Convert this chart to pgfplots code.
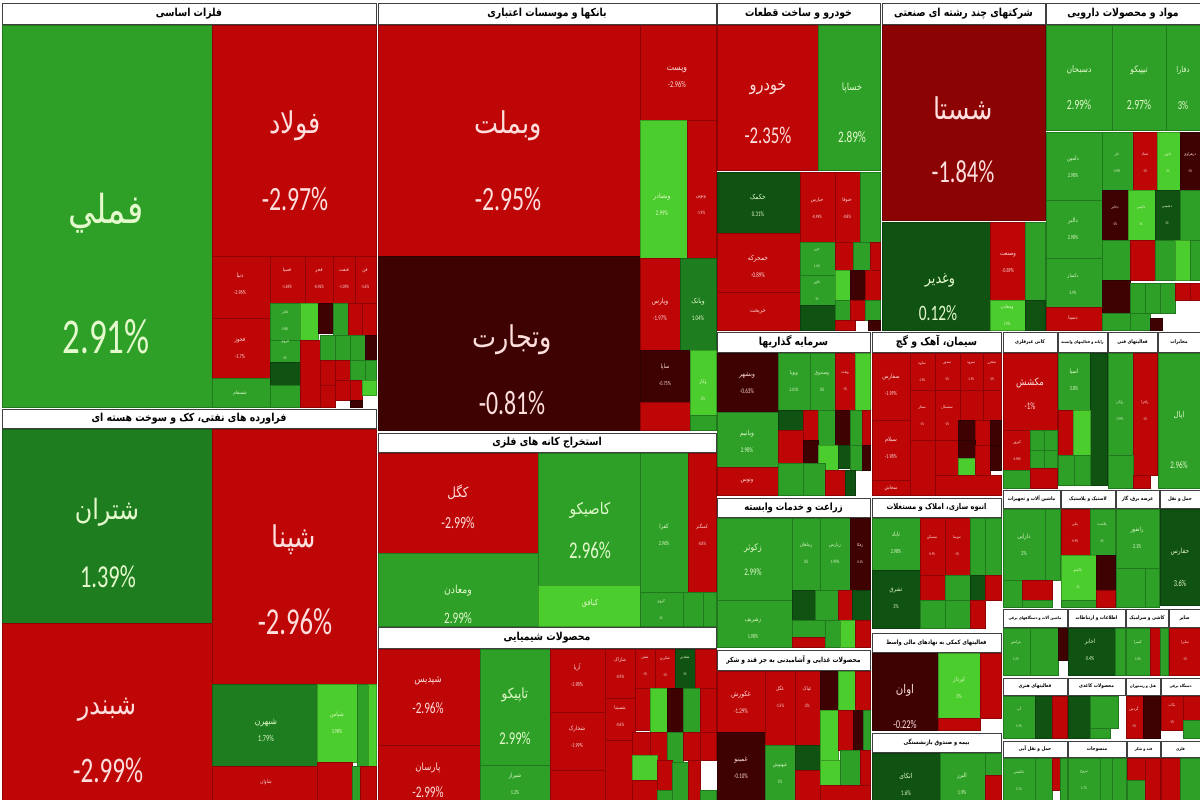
\documentclass[border=0pt]{standalone}
\usepackage{pgfplots}
\pgfplotsset{compat=1.18}
\usepackage{fontspec}
\usetikzlibrary{calc}
\setmainfont{Carlito}
\newfontfamily\fa[Script=Arabic,FakeStretch=0.85]{DejaVu Sans}
\newfontfamily\la[FakeStretch=0.7]{Carlito}
\TeXXeTstate=1

\definecolor{G}{RGB}{46,160,40}
\definecolor{LG}{RGB}{75,205,45}
\definecolor{MG}{RGB}{30,125,30}
\definecolor{DG}{RGB}{16,82,18}
\definecolor{R}{RGB}{190,6,6}
\definecolor{DR}{RGB}{140,3,3}
\definecolor{M}{RGB}{62,2,2}
\definecolor{tg}{RGB}{228,250,205}
\definecolor{tr}{RGB}{255,222,222}

% one treemap cell: x1 y1 x2 y2 colour
\newcommand\rc[5]{\addplot[fill=#5,draw=#5!75!black,line width=0.6pt] coordinates {(#1,#2) (#3,#2) (#3,#4) (#1,#4)} --cycle;}
% sector header: x1 y1 x2 y2 text size
\newcommand\hd[6]{\addplot[fill=white,draw=black!75,line width=0.7pt] coordinates {(#1,#2) (#3,#2) (#3,#4) (#1,#4)} --cycle;
  \node[inner sep=0pt,font={\fa\bfseries\fontsize{#6}{#6}\selectfont}] at ($(axis cs:#1,#2)!0.5!(axis cs:#3,#4)$) {#5};}
\newcommand\nm[5]{\node[inner sep=0pt,text=#5] at (axis cs:#1,#2) {\fa\fontsize{#3}{#3}\selectfont #4};}
\newcommand\pc[5]{\node[inner sep=0pt,text=#5] at (axis cs:#1,#2) {\la\fontsize{#3}{#3}\selectfont #4};}
\newcommand\lb[6]{\node[inner sep=0pt,text=#6,align=center] at (axis cs:#1,#2) {\fa\fontsize{#3}{#3}\selectfont #4\\[0.5em]\la\fontsize{#3}{#3}\selectfont #5};}

\begin{document}
\begin{tikzpicture}
\begin{axis}[width=1200pt,height=800pt,scale only axis,
  xmin=0,xmax=1200,ymin=0,ymax=800,y dir=reverse,hide axis]

\addplot[fill=white,draw=none] coordinates {(0,0) (1200,0) (1200,800) (0,800)} --cycle;

% ---- basic metals
\hd{2}{3}{376}{24}{\beginR فلزات اساسی\endR}{11}
\rc{2}{25}{212}{407}{G}
\rc{212}{25}{376}{256}{R}
\rc{212}{256}{270}{318}{R}
\rc{212}{318}{270}{378}{R}
\rc{212}{378}{270}{407}{G}
\rc{270}{256}{305}{303}{R}
\rc{305}{256}{333}{303}{R}
\rc{333}{256}{355}{303}{R}
\rc{355}{256}{376}{303}{R}
\rc{270}{303}{300}{340}{G}
\rc{300}{303}{318}{340}{LG}
\rc{318}{303}{333}{333}{M}
\rc{333}{303}{348}{335}{G}
\rc{348}{303}{362}{335}{R}
\rc{362}{303}{376}{335}{R}
\rc{270}{340}{300}{362}{G}
\rc{270}{362}{300}{385}{DG}
\rc{270}{385}{300}{407}{G}
\rc{300}{340}{320}{407}{R}
\rc{320}{335}{335}{360}{G}
\rc{335}{335}{350}{360}{G}
\rc{350}{335}{365}{360}{G}
\rc{365}{335}{376}{360}{M}
\rc{320}{360}{335}{385}{R}
\rc{335}{360}{350}{380}{R}
\rc{350}{360}{365}{380}{G}
\rc{365}{360}{376}{380}{G}
\rc{320}{385}{335}{407}{R}
\rc{335}{380}{350}{400}{R}
\rc{350}{380}{362}{400}{R}
\rc{362}{380}{376}{395}{LG}
\rc{350}{400}{362}{407}{M}
\nm{106}{213}{40}{\beginR فملي\endR}{tg}
\pc{106}{337}{50}{2.91\%}{tg}
\nm{295}{126}{30}{\beginR فولاد\endR}{tr}
\pc{295}{199}{34}{-2.97\%}{tr}
\lb{240}{284}{6}{\beginR دنیا\endR}{-2.96\%}{tr}
\lb{240}{348}{6}{\beginR فخوز\endR}{-1.7\%}{tr}
\nm{240}{393}{5}{\beginR شسفام\endR}{tg}
\lb{287}{278}{5}{\beginR فسپا\endR}{-1.69\%}{tr}
\lb{319}{278}{5}{\beginR فجر\endR}{-0.92\%}{tr}
\lb{344}{278}{5}{\beginR فنفت\endR}{-1.09\%}{tr}
\lb{365}{278}{5}{\beginR فن\endR}{-1.6\%}{tr}
\lb{285}{320}{4}{\beginR فاذر\endR}{1.98\%}{tg}
\lb{285}{350}{4}{\beginR فروی\endR}{2\%}{tg}

% ---- petroleum products
\hd{2}{409}{376}{428}{\beginR فراورده های نفتی، کک و سوخت هسته ای\endR}{11}
\rc{2}{429}{212}{623}{MG}
\rc{212}{429}{376}{684}{R}
\rc{2}{623}{212}{800}{R}
\rc{212}{684}{317}{766}{MG}
\rc{317}{684}{357}{762}{LG}
\rc{357}{684}{368}{766}{G}
\rc{368}{684}{376}{766}{LG}
\rc{212}{766}{317}{800}{R}
\rc{317}{762}{352}{800}{R}
\rc{352}{766}{360}{800}{G}
\rc{360}{766}{376}{800}{R}
\nm{107}{512}{28}{\beginR شتران\endR}{tg}
\pc{108}{577}{32}{1.39\%}{tg}
\nm{294}{540}{30}{\beginR شپنا\endR}{tr}
\pc{295}{622}{38}{-2.96\%}{tr}
\nm{107}{710}{28}{\beginR شبندر\endR}{tr}
\pc{108}{770}{36}{-2.99\%}{tr}
\lb{266}{730}{9}{\beginR شبهرن\endR}{1.79\%}{tg}
\lb{337}{723}{6}{\beginR شپاس\endR}{3.98\%}{tg}
\nm{266}{782}{5}{\beginR شاوان\endR}{tr}

% ---- banks
\hd{378}{3}{716}{24}{\beginR بانکها و موسسات اعتباری\endR}{11}
\rc{378}{25}{640}{256}{R}
\rc{378}{256}{640}{430}{M}
\rc{640}{25}{716}{120}{R}
\rc{640}{120}{687}{258}{LG}
\rc{687}{120}{716}{258}{R}
\rc{640}{258}{680}{350}{R}
\rc{680}{258}{716}{350}{MG}
\rc{640}{350}{690}{402}{M}
\rc{640}{402}{690}{430}{R}
\rc{690}{350}{716}{415}{LG}
\rc{690}{415}{716}{430}{G}
\nm{508}{126}{30}{\beginR وبملت\endR}{tr}
\pc{508}{199}{34}{-2.95\%}{tr}
\nm{512}{340}{30}{\beginR وتجارت\endR}{tr}
\pc{512}{403}{34}{-0.81\%}{tr}
\lb{677}{77}{9}{\beginR وپست\endR}{-2.96\%}{tr}
\lb{662}{204}{7}{\beginR وبصادر\endR}{2.99\%}{tg}
\lb{701}{205}{5}{\beginR ونوین\endR}{-1.9\%}{tr}
\lb{660}{309}{7}{\beginR وپارس\endR}{-1.97\%}{tr}
\lb{698}{309}{7}{\beginR وبانک\endR}{1.04\%}{tg}
\lb{665}{375}{6}{\beginR ساپا\endR}{-0.75\%}{tr}
\lb{703}{390}{5}{\beginR وکار\endR}{2\%}{tg}

% ---- metal ores
\hd{378}{433}{716}{452}{\beginR استخراج کانه های فلزی\endR}{11}
\rc{378}{453}{538}{553}{R}
\rc{378}{553}{538}{626}{G}
\rc{538}{453}{640}{585}{G}
\rc{538}{585}{640}{626}{LG}
\rc{640}{453}{688}{592}{G}
\rc{688}{453}{716}{592}{R}
\rc{640}{592}{683}{626}{G}
\rc{683}{592}{703}{626}{G}
\rc{703}{592}{716}{626}{G}
\nm{458}{492}{14}{\beginR کگل\endR}{tr}
\pc{458}{523}{17}{-2.99\%}{tr}
\nm{458}{591}{11}{\beginR ومعادن\endR}{tg}
\pc{458}{618}{16}{2.99\%}{tg}
\nm{590}{510}{16}{\beginR کاصیکو\endR}{tg}
\pc{590}{550}{24}{2.96\%}{tg}
\nm{590}{603}{8}{\beginR کبافق\endR}{tg}
\lb{664}{535}{6}{\beginR کفرا\endR}{2.96\%}{tg}
\lb{702}{535}{5}{\beginR کمنگنز\endR}{-0.8\%}{tr}
\lb{661}{609}{4}{\beginR کروی\endR}{1\%}{tg}

% ---- chemicals
\hd{378}{627}{716}{648}{\beginR محصولات شیمیایی\endR}{11}
\rc{378}{649}{480}{745}{R}
\rc{378}{745}{480}{800}{R}
\rc{480}{649}{550}{765}{G}
\rc{480}{765}{550}{800}{G}
\rc{550}{649}{605}{712}{R}
\rc{550}{712}{605}{770}{R}
\rc{550}{770}{605}{800}{R}
\rc{605}{649}{635}{698}{R}
\rc{605}{698}{635}{740}{R}
\rc{605}{740}{632}{800}{R}
\rc{635}{649}{655}{688}{R}
\rc{655}{649}{675}{688}{R}
\rc{675}{649}{695}{688}{DG}
\rc{695}{649}{716}{688}{R}
\rc{635}{688}{650}{730}{R}
\rc{650}{688}{667}{732}{LG}
\rc{667}{688}{683}{732}{M}
\rc{683}{688}{700}{732}{G}
\rc{700}{688}{716}{732}{R}
\rc{632}{732}{650}{755}{R}
\rc{650}{732}{667}{760}{R}
\rc{667}{732}{683}{762}{G}
\rc{683}{732}{700}{760}{R}
\rc{700}{732}{716}{760}{R}
\rc{632}{755}{657}{780}{LG}
\rc{657}{760}{672}{790}{R}
\rc{672}{762}{688}{800}{G}
\rc{688}{760}{700}{800}{R}
\rc{700}{790}{716}{800}{G}
\rc{632}{780}{657}{800}{R}
\rc{657}{790}{672}{800}{G}
\nm{428}{681}{10}{\beginR شپدیس\endR}{tr}
\pc{428}{708}{16}{-2.96\%}{tr}
\nm{428}{768}{10}{\beginR پارسان\endR}{tr}
\pc{428}{792}{16}{-2.99\%}{tr}
\nm{515}{695}{14}{\beginR تاپیکو\endR}{tg}
\pc{515}{738}{18}{2.99\%}{tg}
\lb{515}{784}{6}{\beginR شیراز\endR}{1.2\%}{tg}
\lb{577}{675}{6}{\beginR آریا\endR}{-1.98\%}{tr}
\lb{577}{737}{6}{\beginR شخارک\endR}{-1.99\%}{tr}
\lb{620}{668}{5}{\beginR شاراک\endR}{-0.9\%}{tr}
\lb{620}{716}{5}{\beginR شسینا\endR}{-0.6\%}{tr}
\lb{645}{666}{4}{\beginR شفن\endR}{-1\%}{tr}
\lb{665}{666}{4}{\beginR شکربن\endR}{-1\%}{tr}
\lb{685}{666}{4}{\beginR شغدیر\endR}{1\%}{tg}

% ---- automotive
\hd{717}{3}{880}{24}{\beginR خودرو و ساخت قطعات\endR}{11}
\rc{717}{25}{818}{170}{R}
\rc{818}{25}{880}{170}{G}
\rc{717}{172}{800}{233}{DG}
\rc{717}{233}{800}{292}{R}
\rc{717}{292}{800}{330}{R}
\rc{800}{172}{835}{242}{R}
\rc{835}{172}{860}{242}{R}
\rc{860}{172}{880}{242}{G}
\rc{800}{242}{835}{275}{G}
\rc{835}{242}{853}{270}{R}
\rc{853}{242}{870}{270}{G}
\rc{870}{242}{880}{270}{R}
\rc{800}{275}{835}{305}{G}
\rc{835}{270}{850}{300}{LG}
\rc{850}{270}{865}{300}{M}
\rc{865}{270}{880}{300}{R}
\rc{800}{305}{835}{330}{DG}
\rc{835}{300}{850}{320}{G}
\rc{850}{300}{865}{320}{R}
\rc{865}{300}{880}{320}{G}
\rc{835}{320}{855}{330}{R}
\rc{868}{320}{880}{330}{M}
\nm{768}{88}{17}{\beginR خودرو\endR}{tr}
\pc{768}{135}{24}{-2.35\%}{tr}
\nm{852}{88}{10}{\beginR خساپا\endR}{tg}
\pc{852}{137}{16}{2.89\%}{tg}
\lb{758}{205}{7}{\beginR خکمک\endR}{0.31\%}{tg}
\lb{758}{266}{7}{\beginR خمحرکه\endR}{-0.89\%}{tr}
\nm{758}{312}{6}{\beginR خریخت\endR}{tr}
\lb{817}{208}{5}{\beginR خپارس\endR}{-0.99\%}{tr}
\lb{847}{208}{5}{\beginR ختوقا\endR}{-0.8\%}{tr}
\lb{817}{258}{4}{\beginR خزر\endR}{1.6\%}{tg}
\lb{817}{290}{4}{\beginR خاور\endR}{1\%}{tg}

% ---- diversified industrials
\hd{882}{3}{1045}{24}{\beginR شرکتهای چند رشته ای صنعتی\endR}{11}
\rc{882}{25}{1045}{220}{DR}
\rc{882}{222}{990}{330}{DG}
\rc{990}{222}{1025}{300}{R}
\rc{1025}{222}{1045}{300}{G}
\rc{990}{300}{1025}{330}{LG}
\rc{1025}{300}{1045}{330}{DG}
\nm{963}{108}{30}{\beginR شستا\endR}{tr}
\pc{963}{172}{32}{-1.84\%}{tr}
\nm{940}{280}{15}{\beginR وغدیر\endR}{tg}
\pc{938}{313}{22}{0.12\%}{tg}
\lb{1008}{263}{6}{\beginR وصنعت\endR}{-0.89\%}{tr}
\lb{1007}{315}{5}{\beginR ومعادن\endR}{1.9\%}{tg}

% ---- pharmaceuticals
\hd{1046}{3}{1200}{24}{\beginR مواد و محصولات دارویی\endR}{11}
\rc{1046}{25}{1112}{130}{G}
\rc{1112}{25}{1166}{130}{G}
\rc{1166}{25}{1200}{130}{G}
\rc{1046}{132}{1102}{200}{G}
\rc{1046}{200}{1102}{258}{G}
\rc{1046}{258}{1102}{307}{G}
\rc{1046}{307}{1102}{330}{R}
\rc{1102}{132}{1133}{190}{G}
\rc{1133}{132}{1157}{190}{R}
\rc{1157}{132}{1180}{190}{LG}
\rc{1180}{132}{1200}{190}{M}
\rc{1102}{190}{1128}{240}{M}
\rc{1128}{190}{1155}{240}{LG}
\rc{1155}{190}{1180}{240}{DG}
\rc{1180}{190}{1200}{240}{G}
\rc{1102}{240}{1130}{280}{G}
\rc{1130}{240}{1155}{280}{R}
\rc{1155}{240}{1175}{280}{G}
\rc{1175}{240}{1190}{280}{LG}
\rc{1190}{240}{1200}{280}{G}
\rc{1102}{280}{1130}{313}{M}
\rc{1130}{283}{1145}{313}{G}
\rc{1145}{283}{1160}{313}{G}
\rc{1160}{283}{1175}{313}{G}
\rc{1175}{283}{1190}{300}{R}
\rc{1190}{283}{1200}{300}{R}
\rc{1102}{313}{1130}{330}{G}
\rc{1130}{313}{1150}{330}{G}
\rc{1150}{318}{1162}{330}{M}
\nm{1079}{70}{9}{\beginR دسبحان\endR}{tg}
\pc{1079}{105}{14}{2.99\%}{tg}
\nm{1139}{70}{9}{\beginR تیپیکو\endR}{tg}
\pc{1139}{105}{14}{2.97\%}{tg}
\nm{1183}{70}{8}{\beginR دفارا\endR}{tg}
\pc{1183}{105}{12}{3\%}{tg}
\lb{1073}{167}{6}{\beginR دامین\endR}{2.98\%}{tg}
\lb{1073}{229}{6}{\beginR دالبر\endR}{2.98\%}{tg}
\lb{1073}{284}{5}{\beginR دکسار\endR}{2.9\%}{tg}
\nm{1073}{318}{5}{\beginR دسینا\endR}{tr}
\lb{1117}{162}{4}{\beginR دلر\endR}{1.99\%}{tg}
\lb{1145}{162}{4}{\beginR دتماد\endR}{-1\%}{tr}
\lb{1168}{162}{4}{\beginR دابور\endR}{3\%}{tg}
\lb{1190}{162}{4}{\beginR دزهراوی\endR}{-1\%}{tr}
\lb{1115}{215}{4}{\beginR دجابر\endR}{-2\%}{tr}
\lb{1141}{215}{4}{\beginR دکیمی\endR}{3\%}{tg}
\lb{1167}{215}{4}{\beginR دشیمی\endR}{1\%}{tg}

% ---- investment
\hd{717}{332}{870}{352}{\beginR سرمایه گذاریها\endR}{11}
\rc{717}{353}{778}{412}{M}
\rc{778}{353}{810}{410}{G}
\rc{810}{353}{835}{410}{G}
\rc{835}{353}{855}{410}{R}
\rc{855}{353}{870}{410}{LG}
\rc{717}{412}{778}{467}{G}
\rc{717}{467}{778}{495}{R}
\rc{778}{410}{803}{430}{DG}
\rc{803}{410}{818}{440}{R}
\rc{818}{410}{835}{445}{G}
\rc{835}{410}{850}{445}{M}
\rc{850}{410}{862}{445}{G}
\rc{862}{410}{870}{445}{R}
\rc{778}{430}{803}{463}{R}
\rc{803}{440}{818}{463}{M}
\rc{818}{445}{838}{470}{LG}
\rc{838}{445}{850}{468}{DG}
\rc{850}{445}{862}{470}{G}
\rc{862}{445}{870}{470}{M}
\rc{778}{463}{803}{495}{G}
\rc{803}{463}{825}{495}{G}
\rc{825}{470}{845}{495}{R}
\rc{845}{470}{855}{495}{DG}
\lb{747}{383}{7}{\beginR وبشهر\endR}{-0.63\%}{tr}
\lb{747}{441}{7}{\beginR وبانیم\endR}{2.98\%}{tg}
\nm{747}{481}{6}{\beginR وتوس\endR}{tr}
\lb{794}{381}{5}{\beginR وپویا\endR}{2.01\%}{tg}
\lb{822}{381}{5}{\beginR وصندوق\endR}{3\%}{tg}
\lb{845}{381}{4}{\beginR ونفت\endR}{-1\%}{tr}

% ---- cement
\hd{872}{332}{1001}{352}{\beginR سیمان، آهک و گچ\endR}{11}
\rc{872}{353}{910}{420}{R}
\rc{872}{420}{910}{480}{R}
\rc{872}{480}{910}{495}{R}
\rc{910}{353}{935}{390}{R}
\rc{935}{353}{960}{390}{R}
\rc{960}{353}{983}{390}{R}
\rc{983}{353}{1001}{390}{R}
\rc{910}{390}{935}{440}{R}
\rc{935}{390}{960}{440}{R}
\rc{960}{390}{983}{420}{R}
\rc{983}{390}{1001}{420}{R}
\rc{910}{440}{935}{495}{R}
\rc{935}{440}{958}{475}{R}
\rc{958}{420}{975}{440}{M}
\rc{975}{420}{990}{445}{R}
\rc{990}{420}{1001}{445}{M}
\rc{958}{440}{975}{458}{M}
\rc{958}{458}{975}{475}{LG}
\rc{975}{445}{990}{475}{R}
\rc{990}{445}{1001}{470}{M}
\rc{935}{475}{1001}{495}{R}
\lb{891}{385}{6}{\beginR سفارس\endR}{-1.99\%}{tr}
\lb{891}{448}{6}{\beginR سیلام\endR}{-1.98\%}{tr}
\nm{891}{488}{5}{\beginR سخاش\endR}{tr}
\lb{922}{371}{4}{\beginR ساوه\endR}{-1.9\%}{tr}
\lb{947}{371}{4}{\beginR سدور\endR}{-2\%}{tr}
\lb{971}{371}{4}{\beginR سرود\endR}{-1.5\%}{tr}
\lb{992}{371}{4}{\beginR سخزر\endR}{-2\%}{tr}
\lb{922}{415}{4}{\beginR سفار\endR}{-1\%}{tr}
\lb{947}{415}{4}{\beginR سشمال\endR}{-1\%}{tr}

% ---- other small sectors, second band
\hd{1003}{332}{1057}{352}{\beginR کانی غیرفلزی\endR}{5}
\hd{1058}{332}{1107}{352}{\beginR رایانه و فعالیتهای وابسته\endR}{4}
\hd{1108}{332}{1157}{352}{\beginR فعالیتهای فنی\endR}{5}
\hd{1158}{332}{1200}{352}{\beginR مخابرات\endR}{5}
\rc{1003}{353}{1057}{430}{R}
\rc{1003}{430}{1030}{470}{R}
\rc{1030}{430}{1044}{450}{G}
\rc{1044}{430}{1057}{450}{G}
\rc{1030}{450}{1044}{468}{G}
\rc{1044}{450}{1057}{468}{G}
\rc{1003}{470}{1030}{488}{G}
\rc{1030}{468}{1057}{488}{R}
\rc{1058}{353}{1090}{410}{G}
\rc{1090}{353}{1107}{485}{DG}
\rc{1058}{410}{1073}{455}{R}
\rc{1073}{410}{1090}{455}{LG}
\rc{1058}{455}{1074}{485}{G}
\rc{1074}{455}{1090}{485}{G}
\rc{1108}{353}{1133}{455}{G}
\rc{1133}{353}{1157}{475}{R}
\rc{1108}{455}{1133}{488}{G}
\rc{1133}{475}{1150}{488}{R}
\rc{1158}{353}{1200}{488}{G}
\nm{1030}{383}{10}{\beginR مکشش\endR}{tr}
\pc{1030}{406}{10}{-1\%}{tr}
\lb{1017}{450}{4}{\beginR کپرور\endR}{-0.98\%}{tr}
\lb{1074}{380}{6}{\beginR اسیا\endR}{3.8\%}{tg}
\lb{1120}{410}{4}{\beginR رایان\endR}{2.99\%}{tg}
\lb{1145}{410}{4}{\beginR رافزا\endR}{-1\%}{tr}
\nm{1179}{415}{8}{\beginR اپال\endR}{tg}
\pc{1179}{465}{10}{2.96\%}{tg}

% ---- agriculture
\hd{717}{498}{870}{517}{\beginR زراعت و خدمات وابسته\endR}{10}
\rc{717}{518}{792}{600}{G}
\rc{717}{600}{792}{647}{G}
\rc{792}{518}{820}{590}{G}
\rc{820}{518}{850}{590}{G}
\rc{850}{518}{870}{590}{M}
\rc{792}{590}{815}{620}{DG}
\rc{815}{590}{838}{620}{G}
\rc{838}{590}{852}{620}{R}
\rc{852}{590}{870}{620}{DG}
\rc{792}{620}{825}{637}{G}
\rc{792}{637}{825}{647}{R}
\rc{825}{620}{840}{647}{G}
\rc{840}{620}{855}{647}{LG}
\rc{855}{620}{870}{647}{R}
\nm{753}{548}{9}{\beginR زکوثر\endR}{tg}
\pc{753}{572}{10}{2.99\%}{tg}
\lb{753}{628}{6}{\beginR زشریف\endR}{1.98\%}{tg}
\lb{806}{553}{5}{\beginR زماهان\endR}{3\%}{tg}
\lb{835}{553}{5}{\beginR زپارس\endR}{1.99\%}{tg}
\lb{860}{553}{4}{\beginR زفکا\endR}{-0.5\%}{tr}

% ---- real estate
\hd{872}{498}{1001}{517}{\beginR انبوه سازی، املاک و مستغلات\endR}{8}
\rc{872}{518}{920}{570}{G}
\rc{872}{570}{920}{628}{DG}
\rc{920}{518}{945}{575}{R}
\rc{945}{518}{970}{575}{R}
\rc{970}{518}{985}{575}{G}
\rc{985}{518}{1001}{575}{G}
\rc{920}{575}{945}{600}{R}
\rc{945}{575}{970}{600}{G}
\rc{970}{575}{985}{600}{DG}
\rc{985}{575}{1001}{600}{R}
\rc{920}{600}{945}{628}{G}
\rc{945}{600}{970}{628}{G}
\rc{970}{600}{985}{628}{R}
\lb{896}{543}{6}{\beginR ثاباد\endR}{2.98\%}{tg}
\lb{896}{598}{6}{\beginR ثشرق\endR}{3\%}{tg}
\lb{932}{545}{4}{\beginR ثمسکن\endR}{-0.9\%}{tr}
\lb{957}{545}{4}{\beginR ثنوسا\endR}{-1\%}{tr}

% ---- financial auxiliaries and insurance
\hd{872}{633}{1001}{652}{\beginR فعالیتهای کمکی به نهادهای مالی واسط\endR}{6}
\rc{872}{653}{938}{730}{M}
\rc{938}{653}{980}{718}{LG}
\rc{980}{653}{1001}{718}{R}
\rc{938}{718}{980}{730}{R}
\nm{905}{690}{12}{\beginR اوان\endR}{tr}
\pc{905}{724}{12}{-0.22\%}{tr}
\lb{959}{688}{6}{\beginR اپرداز\endR}{3\%}{tg}
\hd{872}{733}{1001}{752}{\beginR بیمه و صندوق بازنشستگی\endR}{6}
\rc{872}{753}{940}{800}{DG}
\rc{940}{753}{985}{800}{G}
\rc{985}{753}{1001}{775}{G}
\rc{985}{775}{1001}{800}{R}
\lb{906}{784}{7}{\beginR اتکای\endR}{1.6\%}{tg}
\lb{962}{784}{6}{\beginR البرز\endR}{1.9\%}{tg}

% ---- food
\hd{717}{650}{870}{670}{\beginR محصولات غذایی و آشامیدنی به جز قند و شکر\endR}{7}
\rc{717}{671}{765}{732}{R}
\rc{717}{732}{765}{800}{M}
\rc{765}{671}{795}{745}{R}
\rc{795}{671}{820}{745}{R}
\rc{820}{671}{838}{710}{M}
\rc{838}{671}{855}{710}{LG}
\rc{855}{671}{870}{710}{R}
\rc{765}{745}{795}{800}{G}
\rc{795}{745}{820}{770}{DG}
\rc{820}{710}{838}{760}{LG}
\rc{838}{710}{853}{750}{R}
\rc{853}{710}{863}{750}{M}
\rc{863}{710}{870}{750}{G}
\rc{795}{770}{820}{800}{R}
\rc{820}{760}{840}{785}{LG}
\rc{840}{750}{860}{785}{G}
\rc{860}{750}{870}{785}{R}
\rc{820}{785}{870}{800}{R}
\lb{741}{702}{7}{\beginR غکورش\endR}{-1.29\%}{tr}
\lb{741}{768}{7}{\beginR غمینو\endR}{-0.10\%}{tr}
\lb{780}{697}{5}{\beginR غگل\endR}{-1.5\%}{tr}
\lb{807}{697}{5}{\beginR غپاک\endR}{-2\%}{tr}
\lb{780}{773}{5}{\beginR غبهنوش\endR}{1\%}{tg}

% ---- small sectors, lower right
\hd{1003}{490}{1060}{508}{\beginR ماشین آلات و تجهیزات\endR}{5}
\hd{1061}{490}{1115}{508}{\beginR لاستیک و پلاستیک\endR}{5}
\hd{1116}{490}{1159}{508}{\beginR عرضه برق، گاز\endR}{5}
\hd{1160}{490}{1200}{508}{\beginR حمل و نقل\endR}{5}
\rc{1003}{509}{1045}{580}{G}
\rc{1045}{509}{1060}{580}{G}
\rc{1003}{580}{1022}{607}{G}
\rc{1022}{580}{1052}{600}{R}
\rc{1022}{600}{1052}{607}{G}
\rc{1061}{509}{1090}{555}{R}
\rc{1090}{509}{1115}{555}{G}
\rc{1061}{555}{1096}{600}{LG}
\rc{1096}{555}{1115}{590}{M}
\rc{1061}{600}{1096}{607}{G}
\rc{1096}{590}{1115}{607}{R}
\rc{1116}{509}{1159}{568}{G}
\rc{1116}{568}{1145}{607}{G}
\rc{1145}{568}{1159}{607}{G}
\rc{1160}{509}{1200}{605}{DG}
\lb{1024}{545}{6}{\beginR دارایی\endR}{2\%}{tg}
\lb{1075}{532}{4}{\beginR پتایر\endR}{-0.9\%}{tr}
\lb{1102}{532}{4}{\beginR پلاست\endR}{1\%}{tg}
\lb{1078}{578}{4}{\beginR پاکشو\endR}{2\%}{tg}
\lb{1137}{538}{6}{\beginR رانفور\endR}{2.1\%}{tg}
\nm{1180}{552}{7}{\beginR حفارس\endR}{tg}
\pc{1180}{583}{9}{3.6\%}{tg}

\hd{1003}{609}{1067}{627}{\beginR ماشین آلات و دستگاههای برقی\endR}{4}
\hd{1068}{609}{1125}{627}{\beginR اطلاعات و ارتباطات\endR}{5}
\hd{1126}{609}{1168}{627}{\beginR کاشی و سرامیک\endR}{5}
\hd{1169}{609}{1200}{627}{\beginR سایر\endR}{5}
\rc{1003}{628}{1030}{675}{G}
\rc{1030}{628}{1058}{675}{G}
\rc{1058}{628}{1067}{660}{M}
\rc{1068}{628}{1115}{675}{DG}
\rc{1115}{628}{1125}{675}{G}
\rc{1126}{628}{1150}{675}{G}
\rc{1150}{628}{1160}{675}{R}
\rc{1160}{628}{1168}{675}{G}
\rc{1169}{628}{1200}{675}{R}
\lb{1016}{650}{4}{\beginR بترانس\endR}{1.2\%}{tg}
\lb{1090}{650}{6}{\beginR اخابر\endR}{0.4\%}{tg}
\lb{1138}{650}{4}{\beginR کسرا\endR}{1.8\%}{tg}
\lb{1185}{650}{4}{\beginR سایرا\endR}{-1\%}{tr}

\hd{1003}{678}{1067}{695}{\beginR فعالیتهای هنری\endR}{5}
\hd{1068}{678}{1125}{695}{\beginR محصولات کاغذی\endR}{5}
\hd{1126}{678}{1160}{695}{\beginR هتل و رستوران\endR}{4}
\hd{1161}{678}{1200}{695}{\beginR دستگاه برقی\endR}{4}
\rc{1003}{696}{1035}{738}{G}
\rc{1035}{696}{1052}{738}{DG}
\rc{1052}{696}{1067}{738}{R}
\rc{1068}{696}{1090}{738}{DG}
\rc{1090}{696}{1118}{728}{G}
\rc{1090}{728}{1110}{738}{G}
\rc{1126}{696}{1143}{738}{R}
\rc{1143}{696}{1160}{738}{M}
\rc{1161}{696}{1183}{730}{R}
\rc{1183}{696}{1200}{720}{R}
\rc{1183}{720}{1200}{738}{G}
\lb{1019}{717}{4}{\beginR آپ\endR}{1.9\%}{tg}
\lb{1134}{717}{4}{\beginR گردش\endR}{-1\%}{tr}
\lb{1172}{713}{4}{\beginR بکاب\endR}{-1\%}{tr}

\hd{1003}{741}{1067}{757}{\beginR حمل و نقل آبی\endR}{5}
\hd{1068}{741}{1126}{757}{\beginR منسوجات\endR}{5}
\hd{1127}{741}{1160}{757}{\beginR قند و شکر\endR}{4}
\hd{1161}{741}{1200}{757}{\beginR فلزی\endR}{4}
\rc{1003}{758}{1035}{800}{G}
\rc{1035}{758}{1052}{800}{G}
\rc{1052}{758}{1060}{790}{R}
\rc{1060}{758}{1067}{800}{G}
\rc{1068}{758}{1100}{800}{G}
\rc{1100}{758}{1112}{800}{G}
\rc{1112}{758}{1126}{800}{G}
\rc{1127}{758}{1145}{780}{R}
\rc{1127}{780}{1145}{800}{G}
\rc{1145}{758}{1160}{800}{R}
\rc{1161}{758}{1180}{800}{R}
\rc{1180}{758}{1200}{800}{G}
\lb{1019}{780}{4}{\beginR حکشتی\endR}{1.5\%}{tg}
\lb{1084}{780}{4}{\beginR نبروج\endR}{1.7\%}{tg}

\end{axis}
\end{tikzpicture}
\end{document}
